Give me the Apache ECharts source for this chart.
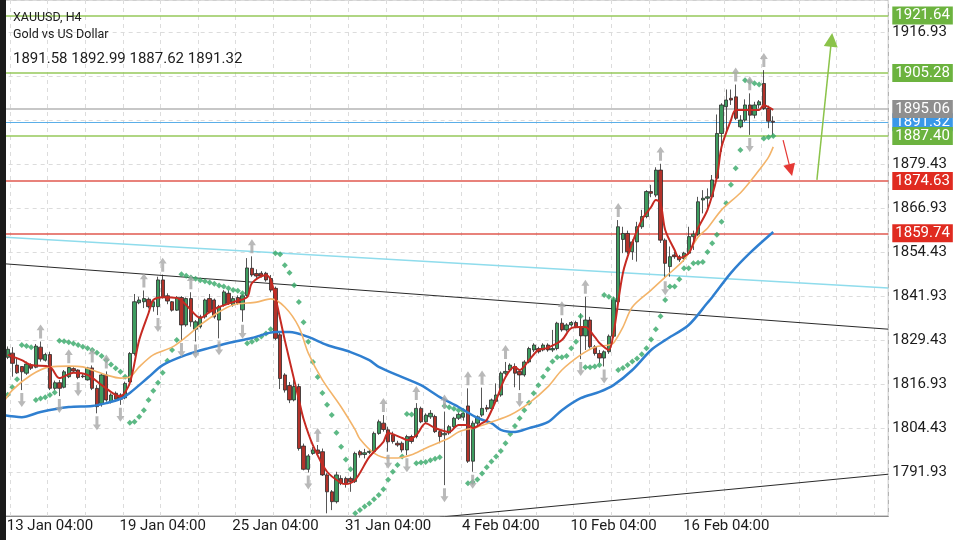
<!DOCTYPE html>
<html>
<head>
<meta charset="utf-8">
<script src="https://cdn.jsdelivr.net/npm/echarts@6/dist/echarts.min.js"></script>
<style>html,body{margin:0;padding:0;background:#fff}#c{width:960px;height:540px}</style>
</head>
<body>
<div id="c"></div>
<script>
// ---------------- DATA ----------------
const symbolName = 'XAUUSD, H4';
const symbolDesc = 'Gold vs US Dollar';
const dateLabels = ['13 Jan 04:00','19 Jan 04:00','25 Jan 04:00','31 Jan 04:00','4 Feb 04:00','10 Feb 04:00','16 Feb 04:00'];
const dateLabelBars = [10, 34, 58, 82, 106, 130, 154];
const slotCount = 189;

const opens = [1826.5,1824.5,1825.7,1822.3,1821.9,1820.0,1822.3,1821.7,1827.4,1823.7,
1825.3,1815.7,1817.3,1816.0,1819.0,1821.3,1820.9,1819.2,1818.1,1821.5,
1815.7,1811.4,1819.5,1811.9,1814.3,1813.8,1813.0,1817.5,1825.6,1840.0,
1840.3,1841.0,1838.9,1838.9,1846.5,1842.0,1840.3,1837.9,1841.5,1833.7,
1841.2,1832.5,1833.2,1836.0,1841.2,1840.8,1835.1,1839.4,1842.7,1839.4,
1841.5,1838.0,1842.1,1849.8,1848.3,1848.4,1848.4,1846.9,1844.1,1830.9,
1819.5,1816.5,1812.4,1816.2,1799.3,1792.7,1797.2,1798.2,1797.7,1791.1,
1786.3,1783.5,1790.1,1790.1,1790.1,1789.2,1797.7,1796.9,1797.5,1797.7,
1802.9,1805.8,1803.9,1802.5,1800.1,1800.1,1798.2,1802.0,1802.0,1810.0,
1806.2,1807.6,1807.7,1803.4,1802.5,1803.0,1804.8,1807.2,1807.5,1810.7,
1795.0,1805.8,1808.1,1810.2,1810.0,1812.0,1813.8,1820.0,1820.9,1821.9,
1820.5,1819.5,1823.2,1826.6,1827.0,1826.6,1828.0,1826.6,1827.0,1834.2,
1832.3,1833.7,1834.4,1833.2,1830.6,1835.1,1827.5,1825.6,1824.3,1826.1,
1830.5,1840.3,1858.0,1859.7,1854.5,1857.3,1861.6,1864.5,1871.6,1870.6,
1877.7,1857.8,1850.3,1853.6,1853.1,1852.6,1854.1,1858.8,1859.5,1869.2,
1869.7,1870.1,1875.4,1888.1,1895.7,1898.1,1898.5,1890.0,1891.9,1896.2,
1893.3,1896.2,1902.3,1895.2,1891.58];
const highs = [1827.5,1827.6,1827.4,1824.2,1822.0,1823.3,1822.8,1828.3,1829.0,1825.8,
1826.1,1817.9,1818.1,1820.9,1822.0,1821.7,1821.1,1820.0,1821.8,1822.2,
1816.6,1819.8,1820.5,1814.3,1814.8,1814.3,1817.6,1826.0,1842.5,1841.7,
1843.5,1841.5,1841.0,1847.4,1848.0,1842.7,1840.5,1841.9,1841.9,1841.5,
1843.0,1835.1,1836.6,1841.2,1842.5,1841.2,1839.4,1843.6,1843.6,1841.9,
1842.1,1842.5,1852.7,1853.2,1849.5,1849.0,1848.8,1847.9,1844.6,1831.5,
1820.0,1817.5,1818.1,1817.0,1800.0,1797.0,1799.0,1799.6,1798.6,1791.6,
1786.8,1792.0,1791.0,1790.6,1790.6,1797.7,1798.2,1798.5,1798.3,1803.4,
1806.8,1808.1,1804.8,1803.4,1800.8,1800.6,1802.5,1802.5,1811.5,1810.5,
1808.6,1809.5,1808.2,1803.9,1809.1,1805.3,1807.6,1808.8,1809.0,1815.7,
1806.5,1808.0,1815.9,1811.0,1812.8,1817.1,1820.5,1823.2,1822.8,1822.8,
1821.0,1823.7,1827.5,1828.5,1827.5,1828.5,1828.5,1832.3,1834.6,1835.6,
1834.2,1834.8,1834.9,1837.0,1841.7,1836.0,1828.0,1826.6,1826.5,1831.0,
1841.7,1863.5,1861.6,1860.5,1858.0,1863.0,1866.4,1872.0,1873.5,1878.5,
1879.5,1858.3,1856.0,1854.5,1853.6,1854.5,1861.6,1860.5,1870.1,1872.0,
1872.5,1876.3,1893.5,1896.7,1900.6,1900.6,1902.0,1893.3,1897.8,1899.5,
1897.1,1897.6,1906.1,1896.0,1892.99];
const lows = [1823.8,1824.0,1819.0,1819.8,1815.2,1819.5,1820.9,1821.4,1823.3,1823.3,
1815.2,1815.2,1813.5,1815.7,1818.6,1820.1,1818.3,1818.6,1817.9,1815.2,
1808.6,1810.5,1811.9,1811.4,1811.9,1811.0,1812.6,1816.5,1825.0,1839.6,
1838.5,1838.4,1837.5,1836.5,1841.2,1839.6,1837.5,1837.7,1829.4,1833.2,
1833.2,1829.0,1832.7,1835.5,1837.0,1835.5,1829.9,1838.9,1839.4,1838.9,
1839.4,1834.6,1841.7,1847.4,1847.0,1847.2,1846.0,1843.0,1829.4,1815.5,
1814.5,1811.5,1812.0,1798.0,1792.4,1791.8,1796.8,1797.0,1790.8,1780.2,
1781.1,1783.0,1788.2,1787.5,1786.3,1788.8,1796.0,1795.8,1797.0,1797.2,
1802.5,1803.4,1797.7,1800.0,1799.1,1797.5,1796.7,1800.0,1801.5,1805.8,
1805.8,1807.0,1803.0,1800.1,1788.2,1802.5,1804.3,1806.7,1806.5,1794.5,
1792.0,1805.0,1807.6,1809.0,1809.5,1811.5,1813.3,1819.5,1820.5,1816.0,
1815.2,1819.0,1822.8,1826.0,1825.6,1826.2,1826.1,1826.0,1826.5,1831.8,
1831.8,1833.2,1832.8,1824.0,1826.6,1827.0,1825.0,1822.9,1821.9,1825.5,
1830.0,1839.8,1854.1,1853.8,1852.2,1851.7,1861.0,1864.0,1870.0,1870.0,
1857.0,1847.0,1847.4,1852.5,1851.6,1851.7,1853.6,1855.0,1859.0,1865.4,
1867.0,1869.7,1875.0,1882.9,1888.1,1896.2,1891.9,1889.6,1891.4,1887.7,
1892.4,1895.2,1894.8,1889.6,1887.62];
const closes = [1824.5,1826.8,1822.8,1820.1,1820.4,1822.6,1821.4,1827.7,1824.0,1825.3,
1815.7,1817.3,1815.7,1820.4,1821.6,1820.6,1818.8,1819.0,1821.5,1815.7,
1810.5,1819.5,1812.4,1813.8,1812.6,1812.6,1817.1,1825.6,1840.3,1840.8,
1841.2,1838.9,1840.3,1846.5,1841.7,1840.5,1837.9,1841.5,1833.7,1841.2,
1834.6,1834.6,1836.0,1840.8,1837.4,1836.0,1838.9,1843.1,1839.8,1841.2,
1839.8,1842.0,1849.9,1847.9,1847.6,1847.6,1846.5,1843.6,1829.9,1818.5,
1815.2,1812.4,1816.2,1798.6,1792.7,1796.5,1798.2,1797.2,1791.1,1786.3,
1783.5,1791.1,1788.7,1788.7,1789.2,1797.2,1796.8,1797.4,1797.8,1802.9,
1806.2,1804.0,1800.5,1800.6,1799.6,1798.2,1802.0,1800.6,1810.0,1806.2,
1808.1,1808.6,1803.4,1802.0,1802.9,1804.8,1807.2,1808.3,1808.6,1795.0,
1805.8,1807.6,1810.0,1809.8,1812.4,1813.8,1820.0,1820.5,1822.3,1820.0,
1819.5,1823.2,1827.0,1828.0,1826.1,1828.0,1826.6,1827.0,1834.2,1832.3,
1833.7,1834.4,1833.2,1830.6,1835.1,1827.5,1825.6,1824.3,1826.1,1830.5,
1840.8,1861.6,1859.7,1854.5,1857.3,1861.6,1864.5,1871.6,1871.1,1877.7,
1857.8,1851.2,1853.1,1853.1,1852.2,1854.1,1858.8,1859.5,1868.7,1869.7,
1870.1,1874.9,1888.1,1896.2,1897.6,1897.6,1892.4,1891.9,1896.2,1893.3,
1896.2,1897.1,1895.2,1891.58,1891.32];

// Parabolic SAR, one value per bar (null = no dot)
const sarValues = [null,1813.9,1816.0,1818.3,1828.0,1827.7,1827.4,1812.4,1812.8,1813.2,
1813.8,1814.5,1829.2,1829.1,1828.8,1828.4,1828.0,1827.5,1827.1,1826.6,
1825.8,1824.9,1823.7,1822.5,1821.4,1820.4,1819.0,1805.9,1806.2,1807.6,
1809.5,1812.4,1815.0,1817.3,1820.1,1823.5,1826.6,1829.4,1848.1,1847.7,
1847.2,1846.8,1846.4,1846.1,1845.8,1845.4,1844.9,1844.6,1844.1,1843.6,
1843.4,1842.7,1828.5,1828.9,1829.6,1830.4,1831.3,1832.5,1854.1,1853.8,
1850.7,1848.5,1845.0,1840.2,1834.5,1828.9,1823.2,1818.9,1814.4,1811.0,
1808.1,1803.1,1799.1,1795.5,1792.7,1780.2,1781.1,1782.1,1783.0,1784.2,
1785.4,1787.0,1789.7,1792.0,1793.9,1796.3,1808.4,1808.3,1794.4,1794.6,
1794.8,1795.3,1795.7,1796.1,1810.7,1810.3,1809.9,1809.5,1809.3,1788.7,
1789.1,1789.8,1791.5,1793.3,1794.9,1796.3,1797.9,1800.1,1802.7,1805.0,
1807.2,1809.5,1811.6,1814.3,1816.6,1819.0,1821.1,1823.3,1824.5,1824.5,
1824.9,1827.1,1828.9,1836.2,1821.7,1821.7,1821.9,1822.3,1842.2,1841.7,
1841.0,1820.9,1821.5,1822.3,1823.3,1824.2,1825.4,1827.1,1829.6,1832.5,
1836.2,1840.8,1844.6,1844.6,1846.7,1849.8,1849.8,1851.2,1851.4,1851.6,
1854.4,1856.9,1859.3,1863.0,1868.3,1873.5,1878.2,1883.4,1903.2,1902.8,
1902.4,1902.0,1886.7,1887.0,1887.4];

// Moving averages: [bar, price]
const maFast = [[1,1825.2],[4,1823.7],[6,1822.3],[10,1821.8],[12,1818.6],[15,1820.1],[18,1819.5],[21,1816.6],[24,1813.8],[25,1813.5],
[27,1817.2],[29,1829.4],[31,1837.1],[32,1840.8],[34,1841.6],[37,1841.4],[39,1839.4],[42,1835.7],[44,1837.4],[46,1838.8],
[49,1840.2],[52,1841.6],[53,1845.6],[56,1847.9],[57,1846.5],[58,1841.6],[60,1829.4],[62,1818.1],[63,1812.5],[64,1807.0],
[66,1799.5],[69,1792.0],[72,1788.8],[73,1788.5],[75,1789.7],[78,1796.2],[81,1800.5],[82,1803.0],[85,1801.6],[86,1801.0],
[88,1802.4],[90,1805.8],[92,1804.4],[95,1803.3],[97,1805.3],[99,1805.3],[100,1804.4],[102,1805.8],[103,1806.7],[105,1812.4],
[107,1818.9],[109,1821.8],[110,1820.9],[112,1823.7],[114,1826.6],[116,1827.2],[119,1829.4],[121,1832.8],[123,1833.1],[124,1833.1],
[126,1830.3],[127,1828.6],[129,1826.6],[130,1831.4],[132,1848.5],[134,1857.0],[136,1863.5],[138,1867.2],[139,1869.2],[140,1868.3],
[141,1860.7],[143,1855.0],[144,1852.7],[146,1854.1],[147,1857.0],[148,1861.2],[150,1866.4],[152,1875.7],[153,1884.3],[155,1891.9],
[156,1894.8],[158,1894.8],[161,1894.8],[162,1896.2],[163,1895.6],[164,1894.8]];
const maMid = [[0,1811.5],[2,1815.2],[6,1819.5],[10,1821.8],[14,1822.0],[17,1821.8],[19,1820.9],[22,1819.5],[25,1818.6],[27,1818.9],
[29,1821.8],[32,1825.2],[36,1827.4],[39,1830.3],[42,1833.7],[46,1837.4],[49,1839.4],[54,1840.2],[57,1841.1],[60,1838.8],
[63,1833.1],[65,1825.7],[68,1818.1],[72,1810.4],[75,1803.9],[76,1801.3],[79,1797.3],[82,1795.9],[84,1795.9],[87,1796.8],
[90,1798.7],[95,1801.6],[97,1803.3],[100,1804.4],[101,1804.7],[104,1806.1],[108,1808.1],[112,1811.5],[116,1816.1],[119,1820.9],
[123,1825.2],[126,1827.4],[129,1828.0],[130,1828.6],[132,1833.1],[134,1838.8],[138,1843.6],[141,1847.3],[145,1852.2],[148,1858.7],
[150,1861.2],[153,1866.4],[157,1871.2],[159,1874.3],[161,1877.7],[163,1881.4],[164,1884.3]];
const maSlow = [[0,1808.1],[4,1807.5],[8,1809.0],[14,1810.4],[19,1810.7],[22,1811.5],[25,1812.7],[27,1814.4],[31,1818.9],[34,1822.3],
[39,1825.2],[44,1827.2],[48,1828.6],[53,1830.0],[58,1831.7],[61,1831.7],[65,1830.3],[69,1828.0],[74,1826.0],[78,1823.7],
[80,1821.8],[85,1818.9],[89,1816.6],[93,1813.2],[97,1810.4],[101,1807.3],[104,1805.8],[106,1803.9],[109,1803.3],[112,1804.4],
[116,1806.1],[119,1809.5],[123,1812.9],[127,1814.7],[130,1816.6],[134,1820.9],[138,1826.6],[141,1829.4],[146,1833.7],[150,1840.0],
[151,1841.6],[155,1848.5],[159,1854.1],[164,1860.1]];

// Fractals (bar indexes)
const fractalUpBars = [8,14,19,22,30,34,40,53,67,81,88,94,99,102,107,119,124,131,140,156,159,162];
const fractalDownBars = [4,12,16,20,25,33,38,41,46,51,65,82,86,94,100,110,123,128,141,159];

// Horizontal levels
const greenLevels = [1921.64, 1905.28, 1887.40];
const greyLevels = [1895.06];
const redLevels = [1874.63, 1859.74];

// Trend lines [bar, price]
const cyanTrend = [[-0.5, 1858.7], [188.5, 1844.2]];
const upperTrend = [[-0.5, 1851.16], [188.5, 1832.5]];
const lowerTrend = [[93.0, 1779.1], [188.5, 1791.3]];
const upArrow = [[173.3, 1874.9], [176.4, 1914.7]];
const downArrow = [[166.1, 1886.2], [167.7, 1877.7]];

// y axis
const yMin = 1779.43, yMax = 1926.02, yStep = 12.5;

// ---------------- CHART ----------------
const last = closes.length - 1;
const bidLevel = closes[last];
const categories = Array.from({length: slotCount}, (_, i) => {
  const k = dateLabelBars.indexOf(i);
  return k >= 0 ? dateLabels[k] : '';
});
const candleData = opens.map((o, i) => [o, closes[i], lows[i], highs[i]]);
const sarData = [];
sarValues.forEach((v, i) => { if (v != null) sarData.push([i, v]); });
const upData = fractalUpBars.map(i => [i, highs[i]]);
const downData = fractalDownBars.map(i => [i, lows[i]]);
const headerOHLC = [opens[last], highs[last], lows[last], closes[last]].map(v => v.toFixed(2)).join(' ');

const FONT = 'Roboto';
function levelSeries(values, lineColor, boxColor, z, width) {
  return {
    type: 'line', xAxisIndex: 1, yAxisIndex: 0, data: [], z: z, clip: false, silent: true,
    markLine: {
      silent: true, symbol: 'none', animation: false,
      lineStyle: { color: lineColor, width: width, type: 'solid' },
      label: {
        show: true, position: 'end', distance: 4,
        formatter: p => Number(p.value).toFixed(2),
        color: '#fff', backgroundColor: boxColor, fontFamily: FONT, fontSize: 15,
        lineHeight: 17, padding: [1, 3, 0, 3]
      },
      emphasis: { disabled: true },
      data: values.map(v => ({ yAxis: v }))
    }
  };
}

const chart = echarts.init(document.getElementById('c'), null, { renderer: 'canvas' });
const option = {
  animation: false,
  backgroundColor: '#ffffff',
  textStyle: { fontFamily: FONT },
  grid: { left: 0, top: 0, width: slotCount * 4.7, bottom: 24, show: true, borderColor: '#a0a0a0', borderWidth: 1, containLabel: false },
  xAxis: [
    {
      type: 'category', data: categories, boundaryGap: true,
      axisLine: { show: true, lineStyle: { color: '#8a8a8a', width: 1 } },
      axisTick: { show: false },
      axisLabel: { interval: 0, color: '#1c1c1c', fontSize: 15, fontFamily: FONT, margin: 3 },
      splitLine: { show: true, interval: (i) => i % 8 === 2, lineStyle: { color: '#dcdcdc', type: [4, 4], width: 1 } }
    },
    { type: 'value', min: -0.5, max: slotCount - 0.5, show: false }
  ],
  yAxis: [{
    type: 'value', position: 'right', min: yMin, max: yMax, interval: yStep, scale: true,
    axisLine: { show: true, lineStyle: { color: '#8a8a8a', width: 1 } },
    axisTick: { show: true, length: 3, lineStyle: { color: '#333' } },
    axisLabel: { color: '#1c1c1c', fontSize: 15, fontFamily: FONT, margin: 4, showMinLabel: false, showMaxLabel: false,
      formatter: v => v.toFixed(2) },
    splitLine: { show: true, lineStyle: { color: '#dcdcdc', type: [4, 4], width: 1 } }
  }],
  graphic: [
    { type: 'text', left: 13, top: 11, z: 100, style: { text: symbolName, font: '12.5px Roboto', fill: '#202020' } },
    { type: 'text', left: 13, top: 28, z: 100, style: { text: symbolDesc, font: '12.5px Roboto', fill: '#202020' } },
    { type: 'text', left: 13, top: 52, z: 100, style: { text: headerOHLC, font: '15px Roboto', fill: '#202020' } },
    { type: 'rect', left: 0, top: 0, z: 100, shape: { width: 6, height: 540 }, style: { fill: '#1a1a1a' } }
  ],
  series: [
    levelSeries([bidLevel], '#5aaee8', '#3a98e8', 4, 1),
    levelSeries(greyLevels, '#b4b4b4', '#8f8f8f', 5, 1.5),
    levelSeries(redLevels, '#e0584f', '#e02b20', 6, 1.5),
    levelSeries(greenLevels, '#96c95a', '#6cb33f', 7, 1.5),
    { type: 'line', xAxisIndex: 1, data: cyanTrend, symbol: 'none', z: 3, lineStyle: { color: '#8fdcec', width: 1.5 }, silent: true },
    { type: 'line', xAxisIndex: 1, data: upperTrend, symbol: 'none', z: 3, lineStyle: { color: '#2a2a2a', width: 1 }, silent: true },
    { type: 'line', xAxisIndex: 1, data: lowerTrend, symbol: 'none', z: 3, lineStyle: { color: '#2a2a2a', width: 1 }, silent: true },
    {
      type: 'candlestick', xAxisIndex: 0, data: candleData, barWidth: 3.8, z: 8,
      itemStyle: { color: '#3d9c5f', color0: '#b3322a', borderColor: '#2b2b2b', borderColor0: '#2b2b2b', borderColorDoji: '#2b2b2b', borderWidth: 0.8 }
    },
    { type: 'scatter', xAxisIndex: 1, data: sarData, symbol: 'diamond', symbolSize: 6, z: 9, itemStyle: { color: '#35a866' }, silent: true },
    { type: 'line', xAxisIndex: 1, data: maSlow, symbol: 'none', smooth: 0.3, z: 10, lineStyle: { color: '#2f7fd0', width: 2.5 }, silent: true },
    { type: 'line', xAxisIndex: 1, data: maMid, symbol: 'none', smooth: 0.3, z: 10, lineStyle: { color: '#f3b46a', width: 1.6 }, silent: true },
    { type: 'line', xAxisIndex: 1, data: maFast, symbol: 'none', smooth: 0.3, z: 11, lineStyle: { color: '#c62a22', width: 2 }, silent: true },
    { type: 'scatter', xAxisIndex: 1, data: upData, z: 12, silent: true,
      symbol: 'path://M4,0 L8,5 L5.5,5 L5.5,12 L2.5,12 L2.5,5 L0,5 Z', symbolSize: [8, 14], symbolOffset: [0, -10],
      itemStyle: { color: '#a8a8a8' } },
    { type: 'scatter', xAxisIndex: 1, data: downData, z: 12, silent: true,
      symbol: 'path://M2.5,0 L5.5,0 L5.5,7 L8,7 L4,12 L0,7 L2.5,7 Z', symbolSize: [8, 14], symbolOffset: [0, 10],
      itemStyle: { color: '#a8a8a8' } },
    { type: 'line', xAxisIndex: 1, data: [], z: 13, silent: true,
      markLine: { silent: true, animation: false, symbol: ['none', 'triangle'], symbolSize: 14, label: { show: false },
        lineStyle: { color: '#8bc34a', width: 1.5, type: 'solid' },
        data: [[{ coord: upArrow[0] }, { coord: upArrow[1] }]] } },
    { type: 'line', xAxisIndex: 1, data: [], z: 13, silent: true,
      markLine: { silent: true, animation: false, symbol: ['none', 'triangle'], symbolSize: 12, label: { show: false },
        lineStyle: { color: '#e53935', width: 1.2, type: 'solid' },
        data: [[{ coord: downArrow[0] }, { coord: downArrow[1] }]] } }
  ]
};
chart.setOption(option);
</script>
</body>
</html>
